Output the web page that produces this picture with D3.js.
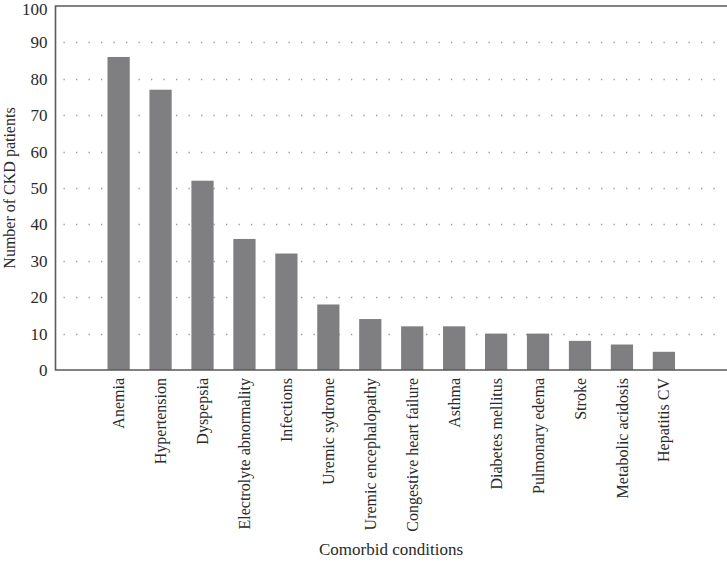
<!DOCTYPE html>
<html>
<head>
<meta charset="utf-8">
<title>Comorbid conditions</title>
<script src="https://d3js.org/d3.v7.min.js"></script>
<style>
  body { margin: 0; background: #fff; }
  svg { display: block; }
</style>
</head>
<body>
<div id="chart"></div>
<script>
// data
const conditions = ["Anemia", "Hypertension", "Dyspepsia", "Electrolyte abnormality", "Infections",
  "Uremic sydrome", "Uremic encephalopathy", "Congestive heart failure", "Asthma",
  "Diabetes mellitus", "Pulmonary edema", "Stroke", "Metabolic acidosis", "Hepatitis CV"];
const patients = [86, 77, 52, 36, 32, 18, 14, 12, 12, 10, 10, 8, 7, 5];
const yTicks = [0, 10, 20, 30, 40, 50, 60, 70, 80, 90, 100];

const W = 727, H = 562;
const plot = {left: 55.5, right: 727, top: 6, bottom: 370};
const font = "'Liberation Serif', 'DejaVu Serif', serif";

const svg = d3.select("#chart").append("svg")
  .attr("width", W).attr("height", H);

const x = d3.scaleBand()
  .domain(conditions)
  .range([plot.left, plot.right])
  .paddingInner(0.47)
  .paddingOuter(1.24);

const y = d3.scaleLinear()
  .domain([0, 100])
  .range([plot.bottom, plot.top]);

// dotted grid
svg.append("g")
  .selectAll("line")
  .data(yTicks.filter(d => d > 0 && d < 100))
  .join("line")
    .attr("x1", plot.left + 8)
    .attr("x2", 723)
    .attr("y1", d => Math.round(y(d)) + 0.5)
    .attr("y2", d => Math.round(y(d)) + 0.5)
    .attr("stroke", "#9a9a9a")
    .attr("stroke-width", 1.3)
    .attr("stroke-dasharray", "1.3 11.2");

// bars
svg.append("g")
  .selectAll("rect")
  .data(patients)
  .join("rect")
    .attr("x", (d, i) => x(conditions[i]))
    .attr("y", d => y(d))
    .attr("width", x.bandwidth())
    .attr("height", d => plot.bottom - y(d))
    .attr("fill", "#7f7f82");

// y axis
const yAxis = d3.axisLeft(y).tickValues(yTicks).tickSize(0).tickPadding(8);
const gy = svg.append("g")
  .attr("transform", `translate(${plot.left},0)`)
  .call(yAxis);
gy.select(".domain").remove();
gy.selectAll("text")
  .attr("font-family", font)
  .attr("font-size", 17)
  .attr("fill", "#2a2a2a")
  .attr("dy", d => d === 100 ? "0.5em" : "0.32em"); // top label sits at the edge

// x axis
const xAxis = d3.axisBottom(x).tickSize(0).tickPadding(9);
const gx = svg.append("g")
  .attr("transform", `translate(0,${plot.bottom})`)
  .call(xAxis);
gx.select(".domain").remove();
gx.selectAll("text")
  .attr("font-family", font)
  .attr("font-size", 16)
  .attr("fill", "#2a2a2a")
  .attr("transform", "rotate(-90)")
  .attr("text-anchor", "end")
  .attr("x", -8)
  .attr("y", 0)
  .attr("dy", "0.35em");

// frame: left, top, bottom
svg.append("path")
  .attr("d", `M${plot.right},${plot.top}H${plot.left}V${plot.bottom}H${plot.right}`)
  .attr("fill", "none")
  .attr("stroke", "#5a5a5a")
  .attr("stroke-width", 1.6);

// axis titles
svg.append("text")
  .attr("x", 391)
  .attr("y", 555)
  .attr("text-anchor", "middle")
  .attr("font-family", font)
  .attr("font-size", 17)
  .attr("fill", "#2a2a2a")
  .text("Comorbid conditions");

svg.append("text")
  .attr("transform", `translate(15,${(plot.top + plot.bottom) / 2}) rotate(-90)`)
  .attr("text-anchor", "middle")
  .attr("font-family", font)
  .attr("font-size", 16)
  .attr("fill", "#2a2a2a")
  .text("Number of CKD patients");
</script>
</body>
</html>
